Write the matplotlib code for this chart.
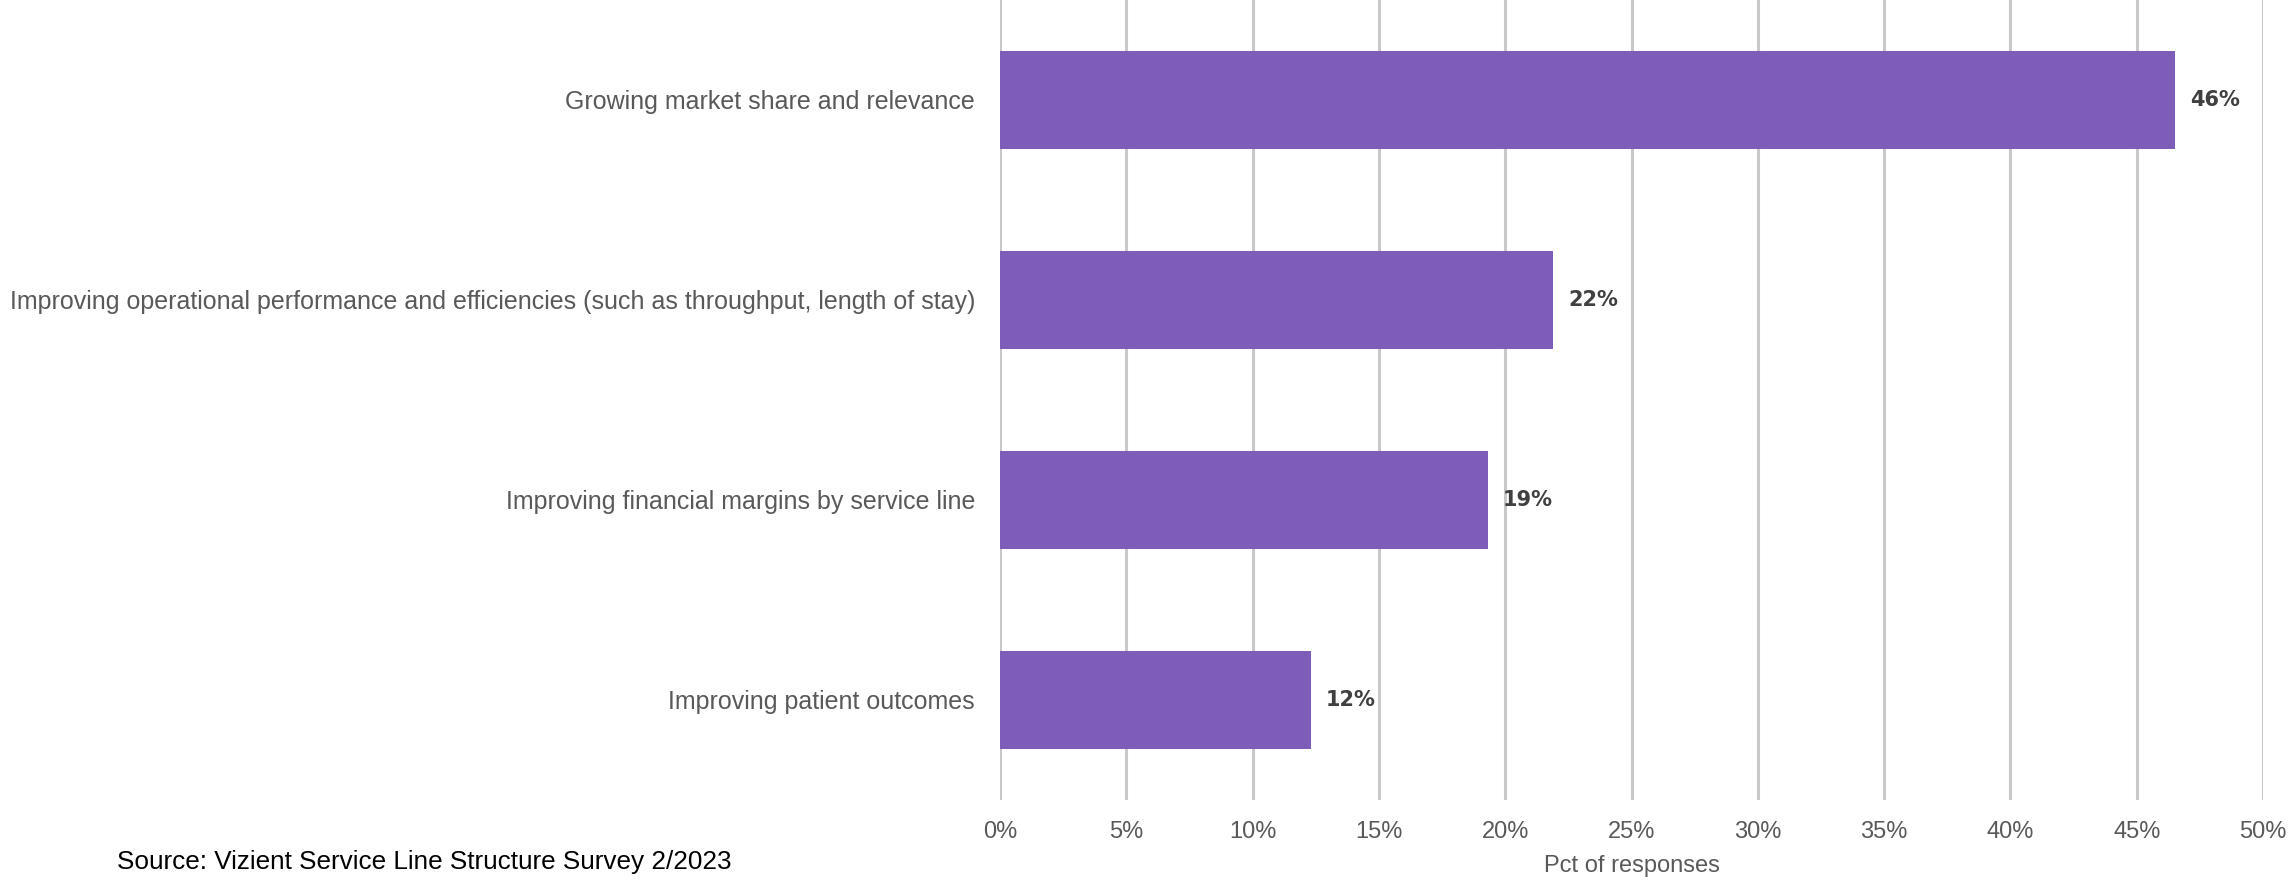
import matplotlib
matplotlib.use("Agg")
import matplotlib.pyplot as plt
from matplotlib.ticker import FuncFormatter

# ---- data ----
categories = [
    "Growing market share and relevance",
    "Improving operational performance and efficiencies (such as throughput, length of stay)",
    "Improving financial margins by service line",
    "Improving patient outcomes",
]
values = [46.5, 21.9, 19.3, 12.3]
value_labels = ["46%", "22%", "19%", "12%"]
xticks = [0, 5, 10, 15, 20, 25, 30, 35, 40, 45, 50]

BAR = "#7E5DB8"
GRID = "#C8C8C8"
TXT = "#595959"

plt.rcParams["font.family"] = ["Liberation Sans", "DejaVu Sans"]

fig = plt.figure(figsize=(22.88, 8.83), dpi=100)
ax = fig.add_axes([1000/2288, 1 - 800/883, 1263/2288, 800/883])

ypos = list(range(len(categories)))
ax.barh(ypos, values, height=0.49, color=BAR, zorder=3)
for y, v, lab in zip(ypos, values, value_labels):
    ax.text(v + 0.6, y, lab, va="center", ha="left", fontsize=15,
            fontweight="bold", color="#404040", family="DejaVu Sans", zorder=4)

ax.set_ylim(len(categories) - 0.5, -0.5)
ax.set_xlim(0, 50)
ax.set_yticks(ypos)
ax.set_yticklabels(categories, fontsize=18, color=TXT)
ax.set_xticks(xticks)
ax.xaxis.set_major_formatter(FuncFormatter(lambda x, p: f"{x:.0f}%"))
ax.tick_params(axis="x", labelsize=17, labelcolor=TXT, length=0, pad=15)
ax.tick_params(axis="y", length=0, pad=18)
ax.grid(axis="x", color=GRID, lw=2.2, zorder=0)
for s in ax.spines.values():
    s.set_visible(False)
ax.set_xlabel("Pct of responses", fontsize=17, color=TXT, labelpad=9)

fig.text(117/2288, 1 - 862/883, "Source: Vizient Service Line Structure Survey 2/2023",
         fontsize=18.8, color="black", ha="left", va="center")

fig.savefig("out.png", dpi=100)
